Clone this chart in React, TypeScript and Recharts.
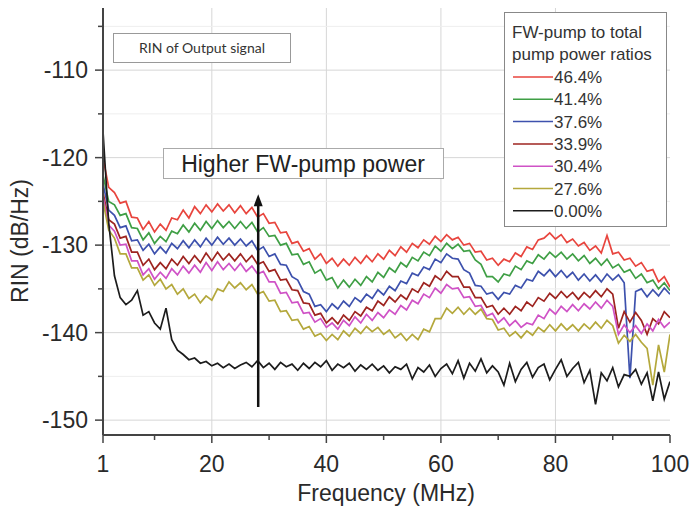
import React from 'react';
import { LineChart, Line, XAxis, YAxis, CartesianGrid, Legend, ReferenceLine, ReferenceDot } from 'recharts';

const FONT = '"Liberation Sans", Arial, Helvetica, sans-serif';

const freq = [1,2,3,4,5,6,7,8,9,10,11,12,13,14,15,16,17,18,19,20,21,22,23,24,25,26,27,28,29,30,31,32,33,34,35,36,37,38,39,40,41,42,43,44,45,46,47,48,49,50,51,52,53,54,55,56,57,58,59,60,61,62,63,64,65,66,67,68,69,70,71,72,73,74,75,76,77,78,79,80,81,82,83,84,85,86,87,88,89,90,91,92,93,94,95,96,97,98,99,100];

const p464 = [-120.0,-123.4,-124.0,-125.2,-125.0,-126.8,-126.9,-128.2,-127.3,-128.5,-127.6,-128.3,-126.9,-127.1,-126.0,-126.9,-125.6,-126.4,-125.4,-126.2,-125.3,-126.1,-125.4,-126.3,-125.5,-126.4,-125.7,-126.8,-126.4,-127.5,-127.4,-128.6,-128.5,-129.8,-129.6,-130.7,-130.4,-131.6,-131.0,-132.1,-131.5,-132.4,-131.6,-132.3,-131.4,-132.1,-131.2,-131.9,-131.0,-131.6,-130.6,-131.2,-130.2,-130.8,-129.8,-130.3,-129.4,-129.9,-129.0,-129.6,-128.8,-129.4,-129.1,-130.0,-129.8,-130.8,-130.7,-131.7,-131.5,-132.3,-131.6,-131.9,-130.9,-131.3,-130.2,-130.5,-129.4,-129.2,-128.6,-129.3,-128.8,-129.7,-129.3,-130.1,-129.7,-130.6,-130.1,-130.9,-128.9,-131.0,-130.8,-131.7,-131.5,-132.4,-132.0,-133.0,-132.8,-134.2,-133.6,-134.8];

const p414 = [-122.0,-125.0,-125.4,-126.6,-126.4,-128.0,-128.1,-129.4,-128.6,-129.8,-129.0,-129.6,-128.4,-128.7,-127.7,-128.5,-127.5,-128.3,-127.3,-128.1,-127.2,-128.0,-127.3,-128.1,-127.3,-128.1,-127.4,-128.5,-128.0,-129.0,-128.9,-130.0,-129.8,-131.1,-131.0,-132.2,-131.9,-133.2,-132.8,-134.0,-133.7,-134.9,-134.0,-134.8,-133.9,-134.6,-133.6,-134.2,-133.1,-133.7,-132.6,-133.1,-132.0,-132.5,-131.4,-131.8,-130.8,-131.2,-130.1,-130.7,-129.8,-130.4,-129.9,-130.7,-130.6,-131.7,-132.2,-133.6,-133.6,-134.2,-133.3,-133.5,-132.4,-132.8,-131.8,-132.1,-131.1,-131.6,-130.8,-131.4,-130.8,-131.6,-131.0,-131.8,-131.2,-132.1,-131.5,-132.3,-131.6,-132.6,-132.2,-133.1,-132.8,-133.8,-133.3,-134.3,-134.0,-135.0,-134.3,-135.2];

const p376 = [-123.0,-126.0,-126.6,-128.0,-127.8,-129.5,-129.4,-130.6,-129.9,-131.0,-130.2,-130.9,-129.8,-130.4,-129.5,-130.3,-129.4,-130.2,-129.2,-130.0,-129.1,-129.9,-129.2,-130.0,-129.3,-130.1,-129.5,-130.6,-130.2,-131.3,-131.0,-132.2,-132.3,-133.6,-134.0,-135.3,-135.6,-137.0,-136.8,-137.6,-136.7,-137.3,-136.4,-137.0,-136.0,-136.5,-135.6,-136.1,-135.1,-135.7,-134.7,-135.2,-134.1,-134.4,-133.2,-133.5,-132.5,-132.8,-131.6,-132.0,-131.0,-131.5,-131.6,-132.8,-133.2,-134.6,-134.7,-135.6,-135.4,-136.2,-135.4,-135.6,-134.6,-134.9,-133.9,-134.1,-133.0,-133.5,-132.8,-133.6,-132.9,-133.7,-133.1,-134.0,-133.3,-134.1,-133.4,-134.2,-133.3,-134.0,-133.4,-134.3,-145.2,-135.3,-135.0,-135.9,-135.1,-135.8,-134.9,-135.6];

const p339 = [-124.0,-127.1,-127.6,-129.2,-129.0,-130.8,-130.8,-132.3,-131.6,-132.8,-132.0,-132.7,-131.6,-132.3,-131.3,-132.1,-131.2,-132.0,-130.9,-131.8,-130.8,-131.7,-131.0,-131.8,-131.0,-131.9,-131.2,-132.2,-131.9,-133.0,-132.8,-134.0,-133.9,-135.1,-135.2,-136.6,-136.7,-138.0,-137.8,-138.9,-138.3,-139.0,-138.0,-138.6,-137.6,-138.1,-137.1,-137.5,-136.4,-136.9,-135.9,-136.5,-135.7,-136.2,-135.0,-135.4,-134.3,-134.7,-133.5,-134.0,-133.0,-133.6,-133.6,-134.8,-134.8,-136.0,-136.0,-137.1,-136.9,-137.9,-137.2,-137.9,-137.0,-137.5,-136.5,-137.0,-136.0,-136.4,-135.5,-136.1,-135.3,-136.0,-135.4,-136.2,-135.4,-136.0,-135.2,-135.9,-135.0,-135.6,-139.5,-137.6,-138.8,-137.7,-138.6,-140.2,-138.4,-139.0,-137.6,-138.3];

const p304 = [-124.5,-127.7,-128.4,-130.0,-129.9,-131.8,-131.8,-133.4,-132.7,-133.9,-133.1,-133.8,-132.7,-133.4,-132.4,-133.2,-132.3,-133.1,-132.0,-132.9,-131.9,-132.8,-132.1,-132.9,-132.1,-133.0,-132.4,-133.3,-133.0,-134.2,-134.2,-135.5,-135.4,-136.6,-136.5,-137.8,-137.7,-138.8,-138.4,-139.4,-138.9,-139.6,-138.6,-139.2,-138.2,-138.9,-137.9,-138.6,-137.7,-138.3,-137.4,-137.9,-136.9,-137.4,-136.3,-136.7,-135.6,-136.0,-134.9,-135.5,-134.5,-135.0,-134.9,-136.0,-135.9,-137.0,-136.9,-138.1,-137.8,-138.9,-138.3,-139.2,-138.6,-139.4,-138.9,-139.1,-138.0,-138.4,-137.3,-137.9,-137.0,-137.6,-136.8,-137.5,-136.7,-137.3,-136.5,-137.2,-136.3,-137.0,-140.2,-139.1,-140.0,-139.2,-140.1,-139.0,-139.8,-138.5,-139.4,-138.8];

const p276 = [-125.0,-128.3,-129.2,-131.0,-131.0,-132.6,-132.6,-134.0,-133.4,-134.6,-133.9,-135.0,-134.5,-135.6,-135.0,-136.1,-135.6,-136.6,-135.8,-136.3,-135.0,-135.3,-134.2,-134.9,-134.3,-135.1,-134.5,-135.6,-135.3,-136.4,-136.3,-137.6,-137.5,-138.6,-138.5,-139.6,-139.3,-140.4,-140.1,-140.9,-140.2,-140.8,-139.8,-140.4,-139.5,-140.1,-139.3,-139.9,-139.4,-140.2,-139.7,-140.6,-140.1,-140.9,-140.2,-140.8,-139.6,-139.9,-138.4,-138.4,-137.2,-137.8,-137.1,-137.9,-137.2,-137.9,-137.3,-138.4,-138.5,-139.7,-139.5,-140.4,-139.9,-140.6,-139.8,-140.3,-139.4,-139.9,-139.1,-139.8,-139.0,-139.7,-139.1,-139.8,-139.0,-139.6,-138.8,-139.5,-138.6,-139.2,-141.2,-140.3,-141.0,-140.2,-141.1,-141.8,-146.0,-141.4,-144.5,-140.2];

const p000 = [-117.0,-127.5,-133.5,-136.0,-136.8,-136.3,-135.2,-138.0,-137.6,-138.9,-139.6,-137.2,-140.8,-142.0,-142.5,-143.1,-142.9,-143.5,-143.3,-143.8,-143.5,-144.0,-143.6,-144.1,-143.7,-143.4,-143.9,-143.2,-144.0,-143.5,-144.2,-143.4,-143.9,-143.6,-144.3,-143.5,-144.1,-143.4,-143.9,-143.2,-144.3,-143.6,-144.0,-143.5,-144.4,-143.7,-144.2,-143.6,-144.3,-143.8,-144.6,-143.9,-144.2,-143.6,-145.3,-144.0,-144.5,-143.7,-145.0,-144.1,-143.6,-144.7,-143.2,-145.2,-143.5,-144.4,-143.0,-144.6,-143.8,-144.5,-146.0,-143.5,-145.6,-144.2,-143.4,-145.1,-144.0,-143.6,-145.4,-144.2,-143.1,-145.0,-144.1,-143.4,-145.7,-144.3,-148.2,-144.6,-145.5,-144.0,-146.2,-144.8,-145.0,-144.2,-145.9,-144.6,-147.8,-144.5,-147.6,-145.6];

const seriesKeys = ['r464', 'r414', 'r376', 'r339', 'r304', 'r276', 'r000'];
const seriesNames = ['46.4%', '41.4%', '37.6%', '33.9%', '30.4%', '27.6%', '0.00%'];
const seriesColors = ['#e8453e', '#3f9f45', '#3d51ad', '#9e2420', '#cf52c6', '#b4a83c', '#1c1c1c'];
const seriesValues = [p464, p414, p376, p339, p304, p276, p000];

const xTicks = [1, 10, 20, 30, 40, 50, 60, 70, 80, 90, 100];
const xLabels = [1, 20, 40, 60, 80, 100];
const yTicks = [-150, -145, -140, -135, -130, -125, -120, -115, -110, -105];
const yLabels = [-150, -140, -130, -120, -110];
const legendTitle = ['FW-pump to total', 'pump power ratios'];
const boxText = 'RIN of Output signal';
const arrowText = 'Higher FW-pump power';
const arrowX = 28.1;
const arrowFrom = -148.5;
const arrowTo = -125.0;

const rows = freq.map((f, i) => {
  const row: Record<string, number> = { f };
  seriesKeys.forEach((k, j) => { row[k] = seriesValues[j][i]; });
  return row;
});

const XTick = (props: any) => {
  const { x, y, payload } = props;
  const major = xLabels.includes(payload.value);
  return (
    <g>
      <line x1={x} x2={x} y1={y} y2={y + (major ? 8 : 5)} stroke="#444" strokeWidth={1.5} />
      {major && (
        <text x={x} y={y + 37} textAnchor="middle" fontSize={23} fontFamily={FONT} fill="#2a2a2a">
          {payload.value}
        </text>
      )}
    </g>
  );
};

const YTick = (props: any) => {
  const { x, y, payload } = props;
  const major = yLabels.includes(payload.value);
  return (
    <g>
      <line x1={x - (major ? 8 : 5)} x2={x} y1={y} y2={y} stroke="#444" strokeWidth={1.5} />
      {major && (
        <text x={x - 15} y={y} dy="0.36em" textAnchor="end" fontSize={23} fontFamily={FONT} fill="#2a2a2a">
          {payload.value}
        </text>
      )}
    </g>
  );
};

const LegendBox = (props: any) => {
  const payload = [...(props.payload || [])].sort(
    (a: any, b: any) => seriesNames.indexOf(a.value) - seriesNames.indexOf(b.value)
  );
  return (
    <svg width={163} height={215} style={{ display: 'block' }}>
      <rect x={0.5} y={0.5} width={162} height={214} fill="#fff" stroke="#888" strokeWidth={1} />
      {legendTitle.map((t, i) => (
        <text key={t} x={8} y={26 + i * 22} fontSize={17} fontFamily={FONT} fill="#333">{t}</text>
      ))}
      {payload.map((p: any, i: number) => (
        <g key={p.value}>
          <line x1={9} x2={49} y1={65 + i * 22.3} y2={65 + i * 22.3} stroke={p.color} strokeWidth={1.5} />
          <text x={50} y={71 + i * 22.3} fontSize={17} fontFamily={FONT} fill="#333">{p.value}</text>
        </g>
      ))}
    </svg>
  );
};

const ArrowHead = (props: any) => {
  const { cx, cy } = props;
  return <polygon points={`${cx - 4.5},${cy + 10} ${cx},${cy - 2} ${cx + 4.5},${cy + 10}`} fill="#111" />;
};

export default function App() {
  return (
    <div style={{ position: 'absolute', left: 0, top: 0, width: 692, height: 513, background: '#fff' }}>
      <LineChart width={692} height={513} data={rows} margin={{ top: 8, right: 22, bottom: 0, left: 0 }}>
        <CartesianGrid horizontalValues={[-150, -140, -130, -120, -110]} verticalValues={[20, 40, 60, 80]} stroke="#d6d6d6" strokeWidth={1} />
        <ReferenceLine y={-145} stroke="#eeeeee" />
        <ReferenceLine y={-135} stroke="#eeeeee" />
        <ReferenceLine y={-125} stroke="#eeeeee" />
        <ReferenceLine y={-115} stroke="#eeeeee" />
        <ReferenceLine y={-105} stroke="#eeeeee" />
        <XAxis
          dataKey="f"
          type="number"
          domain={[1, 100]}
          ticks={xTicks}
          interval={0}
          allowDataOverflow
          height={78}
          tickSize={0}
          tickMargin={0}
          tickLine={false}
          tick={<XTick />}
          axisLine={{ stroke: '#444', strokeWidth: 2 }}
        />
        <YAxis
          type="number"
          domain={[-151.7, -102.9]}
          ticks={yTicks}
          interval={0}
          allowDataOverflow
          width={103}
          tickSize={0}
          tickMargin={0}
          tickLine={false}
          tick={<YTick />}
          axisLine={{ stroke: '#444', strokeWidth: 2 }}
        />
        {seriesKeys.map((k, i) => (
          <Line
            key={k}
            dataKey={k}
            name={seriesNames[i]}
            stroke={seriesColors[i]}
            strokeWidth={1.7}
            dot={false}
            activeDot={false}
            type="linear"
            isAnimationActive={false}
          />
        ))}
        <ReferenceLine segment={[{ x: arrowX, y: arrowFrom }, { x: arrowX, y: arrowTo }]} stroke="#111" strokeWidth={2.5} />
        <ReferenceDot x={arrowX} y={arrowTo + 0.6} r={5} shape={<ArrowHead />} />
        <Legend
          layout="vertical"
          align="center"
          verticalAlign="middle"
          content={<LegendBox />}
          wrapperStyle={{ position: 'absolute', left: 504, top: 12, width: 163, height: 215 }}
        />
        <g>
          <rect x={113.5} y={33.5} width={177} height={29} fill="#fff" stroke="#999" strokeWidth={1} />
          <text x={202} y={53} textAnchor="middle" fontSize={14} fontFamily="Lato, 'Open Sans', sans-serif" fill="#333">{boxText}</text>
          <rect x={163.5} y={148.5} width={280} height={30} fill="#fff" stroke="#aaa" strokeWidth={1} />
          <text x={303} y={172} textAnchor="middle" fontSize={23} fontFamily={FONT} fill="#222">{arrowText}</text>
          <text x={386} y={501} textAnchor="middle" fontSize={23} fontFamily={FONT} fill="#2a2a2a">Frequency (MHz)</text>
          <text x={20} y={241} transform="rotate(-90 20 241)" textAnchor="middle" dominantBaseline="central" fontSize={23} fontFamily={FONT} fill="#2a2a2a">RIN (dB/Hz)</text>
        </g>
      </LineChart>
    </div>
  );
}
